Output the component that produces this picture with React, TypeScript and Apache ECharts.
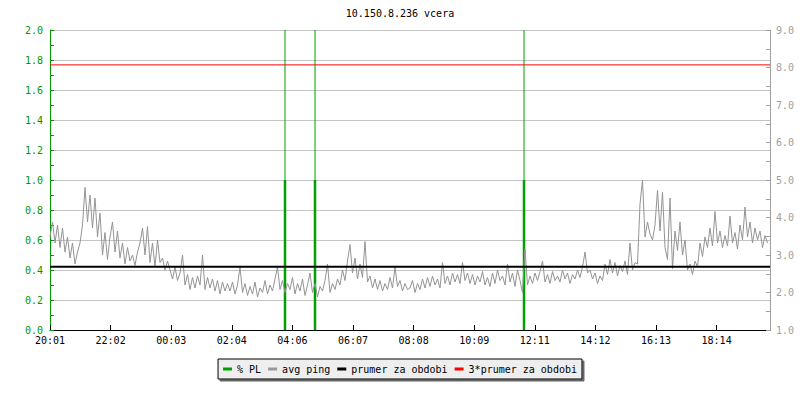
import React, { useEffect, useRef } from "react";
import * as echarts from "echarts";

const chartTitle = "10.150.8.236 vcera";
const xTickLabels = ["20:01", "22:02", "00:03", "02:04", "04:06", "06:07", "08:08", "10:09", "12:11", "14:12", "16:13", "18:14"];
const tickStepMin = 121.2;
const spanMin = 1440;
const sampleStepMin = 5;

// avg ping (ms), one sample every 5 minutes starting 20:01
const avgPing = [
  3.48, 3.88, 3.32, 3.8, 3.2, 3.72, 3.08, 3.48, 2.92, 3.32, 2.76, 3.08, 3.32, 3.8, 4.8, 3.88, 4.6, 3.72, 4.52, 3.48, 4.12, 3.0, 3.6, 2.88,
  3.48, 3.88, 3.08, 3.64, 2.92, 3.32, 2.76, 3.2, 2.84, 3.0, 2.72, 3.08, 3.32, 3.72, 3.0, 3.76, 2.8, 3.32, 2.68, 3.4, 2.8, 2.92, 2.6, 2.84,
  2.6, 2.36, 2.68, 2.32, 2.52, 3.0, 2.2, 2.48, 2.08, 2.4, 2.12, 2.44, 2.2, 3.0, 2.08, 2.4, 2.12, 2.36, 2.04, 2.32, 1.96, 2.28, 2.04, 2.24,
  2.04, 2.28, 1.96, 2.2, 2.68, 2.0, 2.24, 1.92, 2.16, 1.96, 2.28, 1.88, 2.12, 2.0, 2.32, 1.96, 2.2, 2.04, 2.36, 2.68, 2.08, 2.32, 2.0, 2.24,
  2.08, 2.4, 1.96, 2.24, 2.04, 2.36, 1.92, 2.2, 2.52, 2.0, 2.24, 1.88, 2.16, 2.04, 2.32, 2.76, 2.0, 2.24, 2.08, 2.36, 2.2, 2.6, 2.32, 2.84,
  3.28, 2.52, 2.92, 2.36, 2.76, 2.4, 3.36, 2.28, 2.44, 2.12, 2.36, 2.08, 2.32, 2.04, 2.24, 2.08, 2.4, 2.12, 2.68, 2.16, 2.32, 2.04, 2.24, 2.08,
  2.12, 2.32, 2.0, 2.24, 2.08, 2.36, 2.12, 2.4, 2.16, 2.44, 2.2, 2.36, 2.12, 2.8, 2.24, 2.44, 2.2, 2.52, 2.28, 2.48, 2.24, 2.8, 2.32, 2.52,
  2.24, 2.48, 2.2, 2.44, 2.28, 2.56, 2.2, 2.4, 2.16, 2.52, 2.24, 2.6, 2.32, 2.44, 2.2, 2.76, 2.28, 2.52, 2.16, 2.6, 2.32, 2.0, 3.16, 2.2,
  2.44, 2.24, 2.52, 2.32, 2.56, 2.84, 2.28, 2.48, 2.24, 2.56, 2.32, 2.44, 2.28, 2.6, 2.36, 2.52, 2.24, 2.48, 2.36, 2.6, 2.4, 2.68, 3.08, 2.52,
  2.6, 2.36, 2.52, 2.24, 2.44, 2.32, 2.76, 2.48, 2.88, 2.52, 2.8, 2.44, 2.72, 2.56, 2.84, 2.48, 3.32, 2.6, 2.8, 2.76, 4.36, 5.0, 3.48, 3.88,
  3.56, 3.4, 3.8, 4.72, 3.64, 4.68, 3.2, 2.88, 4.52, 2.64, 3.64, 3.12, 3.88, 3.0, 3.4, 2.6, 2.76, 2.48, 2.84, 2.68, 3.32, 2.96, 3.48, 3.2,
  3.72, 3.24, 4.16, 3.32, 3.64, 3.2, 3.52, 3.24, 4.04, 3.32, 3.6, 3.16, 3.8, 3.4, 4.28, 3.48, 3.88, 3.32, 3.72, 3.4, 3.64, 3.2, 3.52, 3.32,
];

// packet loss events (minutes from start) and values
const plTimes = [470, 530, 948];
const plValues = [1.0, 1.0, 1.0];
const plPeaks = [2.0, 2.0, 2.0];

const periodAvg = 2.69;
const periodAvg3 = 8.07;

const seriesNames = ["% PL", "avg ping", "prumer za obdobi", "3*prumer za obdobi"];

const MONO = "DejaVu Sans Mono";

function spikeData(times: number[], vals: number[]) {
  const out: any[] = [];
  times.forEach((t, i) => {
    out.push([t, 0]);
    out.push([t, vals[i]]);
    out.push([t, "-"]);
  });
  return out;
}

export default function App() {
  const ref = useRef<HTMLDivElement>(null);
  useEffect(() => {
    if (!ref.current) return;
    const chart = echarts.init(ref.current, null, { renderer: "svg" });
    const pingData = avgPing.map((v, i) => [i * sampleStepMin, v]);
    const option: any = {
      animation: false,
      backgroundColor: "#ffffff",
      title: {
        text: chartTitle,
        left: "center",
        top: 8,
        padding: 0,
        textStyle: { fontFamily: MONO, fontSize: 10, fontWeight: "normal", color: "#000" },
      },
      legend: {
        data: seriesNames,
        left: "center",
        top: 359,
        padding: 5,
        itemGap: 7,
        itemWidth: 9,
        itemHeight: 3,
        icon: "rect",
        backgroundColor: "#eeeeee",
        borderColor: "#000",
        borderWidth: 1,
        shadowColor: "#666",
        shadowBlur: 0,
        shadowOffsetX: 2,
        shadowOffsetY: 2,
        textStyle: { fontFamily: MONO, fontSize: 10, color: "#000" },
      },
      grid: { left: 50, right: 30, top: 30, bottom: 70 },
      xAxis: {
        type: "value",
        min: 0,
        max: spanMin,
        interval: tickStepMin,
        axisLine: { lineStyle: { color: "#000", width: 1 } },
        axisTick: { inside: true, length: 5, lineStyle: { color: "#000" } },
        splitLine: { show: false },
        axisLabel: {
          margin: 5,
          fontFamily: MONO,
          fontSize: 10,
          color: "#000",
          showMaxLabel: false,
          formatter: (v: number) => {
            const i = Math.round(v / tickStepMin);
            if (Math.abs(i * tickStepMin - v) > 0.01) return "";
            return xTickLabels[i] ?? "";
          },
        },
      },
      yAxis: [
        {
          type: "value",
          min: 0,
          max: 2,
          interval: 0.2,
          position: "left",
          axisLine: { show: true, lineStyle: { color: "#009900" } },
          axisTick: { show: true, inside: true, length: 4, lineStyle: { color: "#009900" } },
          minorTick: { show: true, splitNumber: 2, length: 4, lineStyle: { color: "#009900" } },
          splitLine: { show: true, lineStyle: { color: "#c4c4c4", width: 1 } },
          axisLabel: {
            margin: 7,
            fontFamily: MONO,
            fontSize: 10,
            color: "#009900",
            formatter: (v: number) => v.toFixed(1),
          },
        },
        {
          type: "value",
          min: 1,
          max: 9,
          interval: 1,
          position: "right",
          axisLine: { show: true, lineStyle: { color: "#a0a0a0" } },
          axisTick: { show: true, inside: true, length: 4, lineStyle: { color: "#a0a0a0" } },
          minorTick: { show: true, splitNumber: 2, length: 4, lineStyle: { color: "#a0a0a0" } },
          splitLine: { show: false },
          axisLabel: {
            margin: 6,
            fontFamily: MONO,
            fontSize: 10,
            color: "#a0a0a0",
            formatter: (v: number) => v.toFixed(1),
          },
        },
      ],
      series: [
        {
          name: "% PL peak",
          type: "line",
          yAxisIndex: 0,
          data: spikeData(plTimes, plPeaks),
          showSymbol: false,
          connectNulls: false,
          lineStyle: { color: "#00a000", width: 1 },
          itemStyle: { color: "#00a000" },
          z: 2,
        },
        {
          name: seriesNames[0],
          type: "line",
          yAxisIndex: 0,
          data: spikeData(plTimes, plValues),
          showSymbol: false,
          connectNulls: false,
          lineStyle: { color: "#00a000", width: 2.5 },
          itemStyle: { color: "#00a000" },
          z: 3,
        },
        {
          name: seriesNames[1],
          type: "line",
          yAxisIndex: 1,
          data: pingData,
          showSymbol: false,
          lineStyle: { color: "#949494", width: 1 },
          itemStyle: { color: "#999999" },
          z: 4,
        },
        {
          name: seriesNames[2],
          type: "line",
          yAxisIndex: 1,
          data: [[0, periodAvg], [spanMin, periodAvg]],
          showSymbol: false,
          lineStyle: { color: "#000000", width: 2 },
          itemStyle: { color: "#000000" },
          z: 5,
        },
        {
          name: seriesNames[3],
          type: "line",
          yAxisIndex: 1,
          data: [[0, periodAvg3], [spanMin, periodAvg3]],
          showSymbol: false,
          lineStyle: { color: "#ff0000", width: 1 },
          itemStyle: { color: "#ff0000" },
          z: 5,
        },
      ],
    };
    chart.setOption(option);
    return () => chart.dispose();
  }, []);
  return (
    <div
      ref={ref}
      style={{ position: "fixed", left: 0, top: 0, width: 800, height: 400, background: "#fff" }}
    />
  );
}
